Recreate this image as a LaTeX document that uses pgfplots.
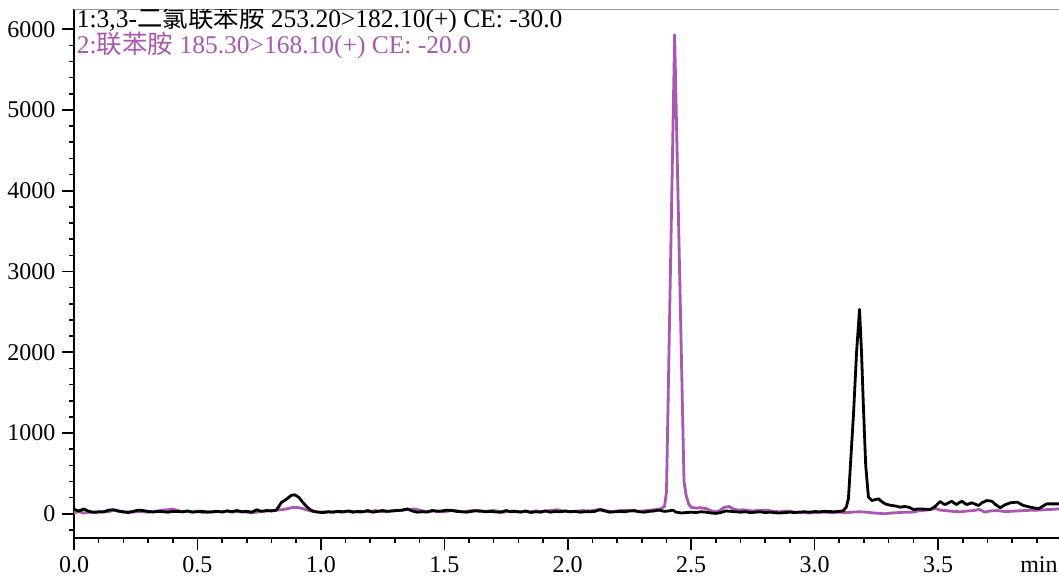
\documentclass[border=0pt]{standalone}
\usepackage{fontspec}
\setmainfont{Liberation Serif}
\newfontfamily\cjk{Noto Sans CJK SC}
\usepackage{pgfplots}
\pgfplotsset{compat=1.18}
\usetikzlibrary{calc}
\definecolor{trace2}{HTML}{A957B0}

% trace 1: 3,3-dichlorobenzidine 253.20>182.10
\pgfplotstableread{
t int
0.000 55
0.020 35
0.040 60
0.060 30
0.080 20
0.100 25
0.120 22
0.140 45
0.160 50
0.180 35
0.200 25
0.220 15
0.240 30
0.260 45
0.280 40
0.300 28
0.320 22
0.340 30
0.360 25
0.380 20
0.400 30
0.420 28
0.440 25
0.460 35
0.480 22
0.500 25
0.520 30
0.540 20
0.560 25
0.580 30
0.600 22
0.620 35
0.640 28
0.660 40
0.680 25
0.700 30
0.720 20
0.740 50
0.760 30
0.780 40
0.800 35
0.820 45
0.840 140
0.860 180
0.880 228
0.895 235
0.910 205
0.925 150
0.940 95
0.955 55
0.970 30
0.990 20
1.010 15
1.030 25
1.050 20
1.070 30
1.090 25
1.110 35
1.130 20
1.150 30
1.170 25
1.190 40
1.210 20
1.230 30
1.250 40
1.270 30
1.290 35
1.310 40
1.330 45
1.350 60
1.370 35
1.390 20
1.410 25
1.430 22
1.450 40
1.470 30
1.490 35
1.510 45
1.530 40
1.550 30
1.570 25
1.590 20
1.610 30
1.630 38
1.650 35
1.670 25
1.690 30
1.710 22
1.730 20
1.750 40
1.770 25
1.790 30
1.810 20
1.830 35
1.850 15
1.870 25
1.890 20
1.910 35
1.930 20
1.950 30
1.970 25
1.990 35
2.010 25
2.030 30
2.050 20
2.070 25
2.090 25
2.110 30
2.130 50
2.150 35
2.170 20
2.190 25
2.210 30
2.230 25
2.250 35
2.270 40
2.290 25
2.310 20
2.330 30
2.350 35
2.370 45
2.390 30
2.410 35
2.425 45
2.440 20
2.460 10
2.480 15
2.500 20
2.520 15
2.540 25
2.560 20
2.580 10
2.600 5
2.620 15
2.640 35
2.660 30
2.680 25
2.700 20
2.720 25
2.740 15
2.760 20
2.780 25
2.800 15
2.820 20
2.840 12
2.860 10
2.880 15
2.900 20
2.920 15
2.940 22
2.960 25
2.980 20
3.000 28
3.020 25
3.040 30
3.060 28
3.080 25
3.100 30
3.115 35
3.128 80
3.137 185
3.158 1260
3.170 2000
3.182 2531
3.190 2000
3.198 1300
3.207 600
3.218 206
3.232 164
3.245 175
3.259 185
3.272 150
3.286 123
3.300 110
3.313 103
3.330 95
3.347 82
3.365 90
3.381 82
3.401 53
3.420 60
3.441 58
3.468 53
3.488 90
3.509 152
3.520 125
3.529 115
3.545 140
3.556 156
3.566 130
3.576 115
3.587 140
3.597 156
3.607 130
3.617 115
3.637 136
3.650 120
3.664 103
3.680 140
3.698 164
3.718 156
3.735 110
3.752 74
3.770 110
3.793 136
3.820 144
3.846 103
3.874 82
3.907 62
3.925 95
3.940 123
3.990 123
}\traceone

% trace 2: benzidine 185.30>168.10
\pgfplotstableread{
t int
0.000 15
0.020 25
0.040 10
0.060 20
0.080 15
0.100 20
0.120 30
0.140 25
0.160 45
0.180 30
0.200 20
0.220 25
0.240 20
0.260 30
0.280 25
0.300 20
0.320 30
0.340 35
0.360 45
0.380 50
0.400 60
0.420 40
0.440 25
0.460 30
0.480 20
0.500 35
0.520 15
0.540 25
0.560 20
0.580 30
0.600 25
0.620 35
0.640 20
0.660 30
0.680 25
0.700 20
0.720 15
0.740 20
0.760 30
0.780 35
0.800 40
0.820 45
0.840 50
0.860 60
0.880 75
0.900 80
0.920 70
0.940 50
0.960 35
0.980 25
1.000 20
1.020 25
1.040 20
1.060 30
1.080 20
1.100 25
1.120 35
1.140 25
1.160 20
1.180 30
1.200 25
1.220 40
1.240 30
1.260 25
1.280 35
1.300 45
1.320 40
1.340 50
1.360 55
1.380 60
1.400 45
1.420 30
1.440 25
1.460 40
1.480 30
1.500 25
1.520 35
1.540 45
1.560 30
1.580 25
1.600 35
1.620 40
1.640 30
1.660 25
1.680 35
1.700 40
1.720 30
1.740 20
1.760 30
1.780 35
1.800 25
1.820 30
1.848 25
1.870 35
1.900 30
1.930 40
1.957 50
1.980 35
2.000 25
2.030 30
2.060 40
2.090 35
2.110 45
2.135 55
2.160 35
2.180 25
2.200 35
2.230 45
2.260 35
2.290 30
2.320 40
2.350 50
2.375 60
2.392 90
2.400 270
2.433 5930
2.471 400
2.480 220
2.490 120
2.500 80
2.520 70
2.540 75
2.560 65
2.580 40
2.593 25
2.610 30
2.634 80
2.654 90
2.670 60
2.690 45
2.710 50
2.730 40
2.750 35
2.780 45
2.806 45
2.830 30
2.860 25
2.890 35
2.920 20
2.950 15
2.980 10
3.010 15
3.040 20
3.070 15
3.100 20
3.130 15
3.150 20
3.180 25
3.210 20
3.240 10
3.265 5
3.285 0
3.310 10
3.340 15
3.370 20
3.395 20
3.420 35
3.450 45
3.470 55
3.490 65
3.510 45
3.530 40
3.560 30
3.590 25
3.620 35
3.645 40
3.667 55
3.690 20
3.710 35
3.740 40
3.765 30
3.790 30
3.820 35
3.850 40
3.880 45
3.900 45
3.930 50
3.960 55
3.990 60
}\tracetwo

\begin{document}
\begin{tikzpicture}
\begin{axis}[
  scale only axis,
  width=492.5pt, height=264.5pt,
  xmin=0, xmax=3.99,
  ymin=-300, ymax=6250,
  axis x line=bottom, axis y line=left,
  axis line style={-, black, line width=0.8pt},
  tick align=outside,
  xtick={0,0.5,1,1.5,2,2.5,3,3.5},
  minor xtick={0.1,0.2,0.3,0.4,0.6,0.7,0.8,0.9,1.1,1.2,1.3,1.4,1.6,1.7,1.8,1.9,2.1,2.2,2.3,2.4,2.6,2.7,2.8,2.9,3.1,3.2,3.3,3.4,3.6,3.7,3.8,3.9},
  ytick={0,1000,2000,3000,4000,5000,6000},
  minor ytick={-200,200,400,600,800,1200,1400,1600,1800,2200,2400,2600,2800,3200,3400,3600,3800,4200,4400,4600,4800,5200,5400,5600,5800},
  tick style={black, line width=0.8pt},
  major tick length=5.8pt,
  minor tick length=2.5pt,
  scaled y ticks=false,
  tick label style={font=\fontsize{12}{14}\selectfont},
  /pgf/number format/assume math mode=true,
  xticklabel style={/pgf/number format/.cd, fixed, fixed zerofill, precision=1},
  yticklabel style={/pgf/number format/.cd, 1000 sep={}},
  clip=true,
]
\draw[gray!80, line width=0.8pt] (rel axis cs:0,1) -- (rel axis cs:1,1);
\addplot[trace2, line width=1.4pt, line join=round] table[x=t, y=int] {\tracetwo};
\addplot[black, line width=1.4pt, line join=round] table[x=t, y=int] {\traceone};
\node[anchor=base west, inner sep=0pt, font=\fontsize{12.75}{14}\selectfont]
  at ($(rel axis cs:0,1)+(1.2pt,-9pt)$) {1:3,3-{\cjk 二氯联苯胺} 253.20>182.10(+) CE: -30.0};
\node[anchor=base west, inner sep=0pt, text=trace2, font=\fontsize{12.75}{14}\selectfont]
  at ($(rel axis cs:0,1)+(1.2pt,-22.2pt)$) {2:{\cjk 联苯胺} 185.30>168.10(+) CE: -20.0};
\end{axis}
\node[anchor=base east, inner sep=0pt, font=\fontsize{12}{14}\selectfont]
  at ($(current axis.south east)+(-0.5pt,-17pt)$) {min};
\pgfresetboundingbox
\path ($(current axis.south west)+(-37pt,-19.5pt)$) rectangle ($(current axis.north east)+(0pt,4.5pt)$);
\end{tikzpicture}
\end{document}
